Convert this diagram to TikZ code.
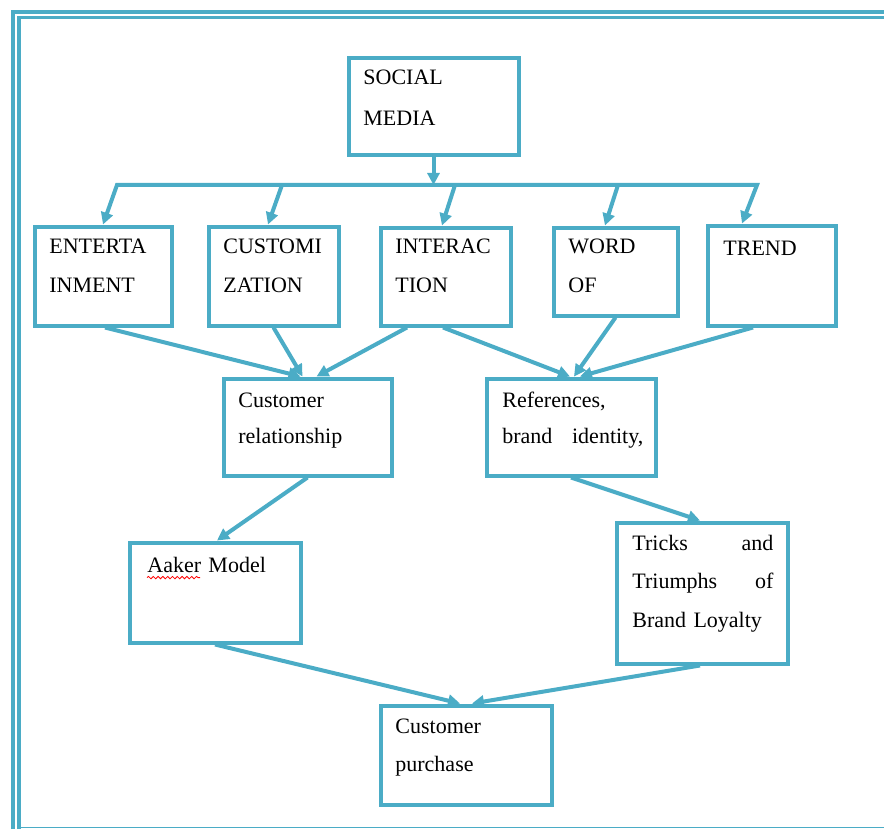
\documentclass[tikz,border=0pt]{standalone}
\usepackage{fontspec}
\setmainfont{Liberation Serif}
\usetikzlibrary{arrows.meta,positioning,decorations.pathmorphing}
\definecolor{sky}{HTML}{4BACC6}

\begin{document}
\begin{tikzpicture}[x=0.5pt, y=-0.5pt, >={Triangle[length=6pt, width=6pt]}, box/.style={draw=sky, line width=2pt, inner sep=0pt}, txt/.style={anchor=base west, inner sep=0pt, align=left, text width=#1, font=\fontsize{11}{19.5}\selectfont}, txt/.default=80pt, con/.style={draw=sky, line width=2pt, ->}, rim/.style={draw=sky, line width=1.6pt}]
	\useasboundingbox (0,0) rectangle (884,829);
	\draw[rim] (13,829) -- (13,12) -- (884,12);
	\draw[rim] (19,829) -- (19,17.5) -- (884,17.5);
	\draw[sky, line width=0.9pt] (19,827.5) -- (884,827.5);
	\node[box, minimum width=85pt, minimum height=48.5pt] (soc) at (433.5,107) {};
	\node[box, minimum width=68.5pt, minimum height=49.5pt] (ent) at (103,276) {};
	\node[box, minimum width=65pt, minimum height=49.5pt] (cus) at (273.5,276) {};
	\node[box, minimum width=65pt, minimum height=49pt] (int) at (445.5,276.5) {};
	\node[box, minimum width=62pt, minimum height=44pt] (wor) at (615.5,271.5) {};
	\node[box, minimum width=64pt, minimum height=50pt] (tre) at (771.5,275.5) {};
	\node[box, minimum width=84pt, minimum height=48.5pt] (crm) at (307.5,427) {};
	\node[box, minimum width=84.5pt, minimum height=48.5pt] (ref) at (571,427) {};
	\node[box, minimum width=85.5pt, minimum height=50pt] (aak) at (215,592.5) {};
	\node[box, minimum width=85.5pt, minimum height=70.5pt] (tri) at (702,593) {};
	\node[box, minimum width=85.5pt, minimum height=49.5pt] (pur) at (466,755) {};
	\node[txt, font=\fontsize{11}{20.5}\selectfont] (soct) at (363,85) {SOCIAL\\MEDIA};
	\node[txt] (entt) at (49,253) {ENTERTA\\INMENT};
	\node[txt] (cust) at (223,253) {CUSTOMI\\ZATION};
	\node[txt] (intt) at (395,253) {INTERAC\\TION};
	\node[txt] (wort) at (568,253) {WORD\\OF};
	\node[txt] (tret) at (723,256) {TREND};
	\node[txt, font=\fontsize{11}{18}\selectfont] (crmt) at (238,407) {Customer\\relationship};
	\node[txt=70.5pt, font=\fontsize{11}{18}\selectfont] (reft) at (502,407) {References,\\brand\hfill identity,};
	\node[txt] (aakt) at (147,572) {Aaker Model};
	\node[txt=70.5pt, font=\fontsize{11}{19.25}\selectfont] (trit) at (632,550) {Tricks\hfill and\\Triumphs\hfill of\\Brand Loyalty};
	\node[txt, font=\fontsize{11}{19}\selectfont] (purt) at (395,733) {Customer\\purchase};
	\draw[red, line width=0.4pt, decorate, decoration={snake, amplitude=0.6pt, segment length=2.4pt}] ([yshift=-2.8pt]aakt.base west) -- ++(53,0);
	\coordinate (bl) at (117,185); \coordinate (br) at (757,185);
	\coordinate (b2) at (282,185); \coordinate (b3) at (455,185); \coordinate (b4) at (618,185);
	\draw[con] (soc.south) -- (soc.south |- bl);
	\draw[con, <->] (ent.north) -- (bl) -- (br) -- ([xshift=-14.75pt]tre.north);
	\draw[con] (b2) -- ([xshift=-2.75pt]cus.north);
	\draw[con] (b3) -- ([xshift=-1.75pt]int.north);
	\draw[con] (b4) -- ([xshift=-5.25pt]wor.north);
	\draw[con] ([xshift=1pt]ent.south) -- ([xshift=-3.5pt]crm.north);
	\draw[con] (cus.south) -- ([xshift=-2.5pt]crm.north);
	\draw[con] ([xshift=-19.25pt]int.south) -- ([xshift=4.5pt]crm.north);
	\draw[con] ([xshift=-1.25pt]int.south) -- ([xshift=-0.5pt]ref.north);
	\draw[con] (wor.south) -- ([xshift=1.5pt]ref.north);
	\draw[con] ([xshift=-9.25pt]tre.south) -- ([xshift=4.5pt]ref.north);
	\draw[con] (crm.south) -- ([xshift=1pt]aak.north);
	\draw[con] (ref.south) -- ([xshift=-1pt]tri.north);
	\draw[con] (aak.south) -- ([xshift=-3pt]pur.north);
	\draw[con] ([xshift=-1pt]tri.south) -- ([xshift=3pt]pur.north);
\end{tikzpicture}
\end{document}
